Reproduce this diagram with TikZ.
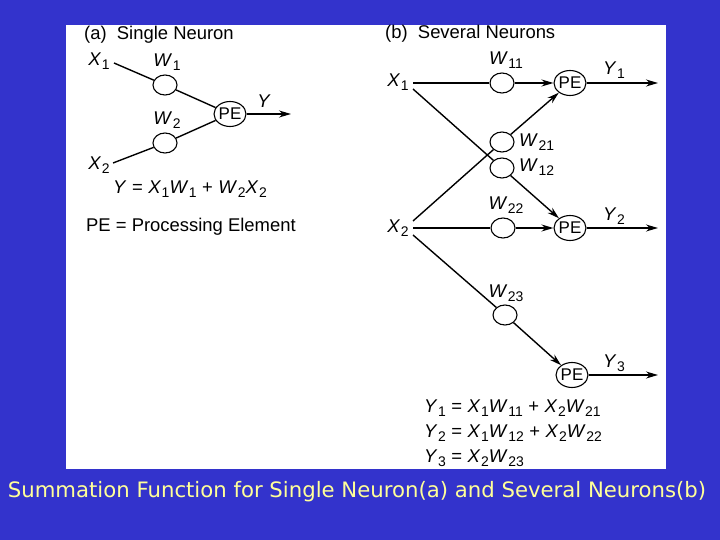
\documentclass[tikz,border=0pt]{standalone}
\usepackage{fontspec}
\setmainfont{Liberation Sans}
\newfontfamily\capfont{DejaVu Sans}
\usetikzlibrary{shapes.geometric,arrows.meta}
\definecolor{bgblue}{RGB}{51,51,204}
\definecolor{capyellow}{RGB}{255,255,153}
\newcommand{\vx}[2]{\textit{#1}\kern0.6pt\raisebox{-0.4ex}{\fontsize{14}{14}\selectfont #2}}
\newcommand{\eqs}{\kern5.5pt=\kern5.5pt}
\newcommand{\pls}{\kern5.5pt+\kern5.5pt}
\tikzset{
  wt/.style={draw, ellipse, fill=white, line width=1.1pt, minimum width=24bp, minimum height=20bp, inner sep=0pt},
  pe/.style={draw, ellipse, fill=white, line width=1.1pt, minimum width=32bp, minimum height=25bp, inner sep=0pt, font=\fontsize{17}{17}\selectfont},
  lbl/.style={inner sep=0pt, font=\fontsize{18.5}{18.5}\selectfont},
  con/.style={line width=1.4pt},
  arr/.style={line width=1.4pt, -{Stealth[length=12bp,width=7bp]}},
}
\begin{document}
\begin{tikzpicture}[x=1bp,y=-1bp]
\useasboundingbox (0,0) rectangle (720,540);
\fill[bgblue] (0,0) rectangle (720,540);
\fill[white] (66,25) rectangle (666,469);

% ---------- panel (a)
\node[lbl, anchor=west] (ta) at (84,35) {(a)\ \ Single Neuron};
\node[lbl] (x1a) at (99,61) {\vx{X}{1}};
\node[lbl] (x2a) at (99,165) {\vx{X}{2}};
\node[wt] (w1) at (165,85) {};
\node[wt] (w2) at (165,143) {};
\node[pe] (pea) at (230,114) {PE};
\node[lbl] (w1l) at (167,62) {\vx{W}{1}};
\node[lbl] (w2l) at (167,120) {\vx{W}{2}};
\node[lbl] (ya) at (264,101) {\textit{Y}};
\coordinate (x1as) at (114,63);
\coordinate (x2as) at (113,163);
\coordinate (yaend) at (291,114);
\draw[con] (x1as) -- (w1);
\draw[con] (x2as) -- (w2);
\draw[con] (w1) -- (pea);
\draw[con] (w2) -- (pea);
\draw[arr] (pea) -- (yaend);
\node[lbl] (eqa) at (190,189) {\textit{Y}\eqs\vx{X}{1}\vx{W}{1}\pls\vx{W}{2}\vx{X}{2}};
\node[lbl, anchor=west] (pedef) at (86,227) {PE = Processing Element};

% ---------- panel (b)
\node[lbl, anchor=west] (tb) at (385,34) {(b)\ \ Several Neurons};
\node[lbl] (x1b) at (398,82) {\vx{X}{1}};
\node[lbl] (x2b) at (398,228) {\vx{X}{2}};
\node[wt] (w11) at (502,83) {};
\node[wt] (w21) at (502,142) {};
\node[wt] (w12) at (502,168) {};
\node[wt] (w22) at (503,228) {};
\node[wt] (w23) at (505,315) {};
\node[pe] (pe1) at (570,83) {PE};
\node[pe] (pe2) at (570,228) {PE};
\node[pe] (pe3) at (572,375) {PE};
\node[lbl] (w11l) at (506,60) {\vx{W}{11}};
\node[lbl, anchor=west] (w21l) at (519,142) {\vx{W}{21}};
\node[lbl, anchor=west] (w12l) at (519,167) {\vx{W}{12}};
\node[lbl] (w22l) at (506,205) {\vx{W}{22}};
\node[lbl] (w23l) at (506,293) {\vx{W}{23}};
\node[lbl] (y1l) at (614,70) {\vx{Y}{1}};
\node[lbl] (y2l) at (614,216) {\vx{Y}{2}};
\node[lbl] (y3l) at (614,363) {\vx{Y}{3}};
\coordinate (x1h) at (413,83);
\coordinate (x1d) at (413,89);
\coordinate (x2u) at (413,221);
\coordinate (x2h) at (413,228);
\coordinate (x2d) at (413,235);
\coordinate (y1e) at (658,83);
\coordinate (y2e) at (658,228);
\coordinate (y3e) at (658,375);
\draw[con] (x1h) -- (w11);
\draw[arr] (w11) -- (pe1);
\draw[con] (x1d) -- (w12);
\draw[arr] (w12) -- (pe2);
\draw[con] (x2u) -- (w21);
\draw[arr] (w21) -- (pe1);
\draw[con] (x2h) -- (w22);
\draw[arr] (w22) -- (pe2);
\draw[con] (x2d) -- (w23);
\draw[arr] (w23) -- (pe3);
\draw[arr] (pe1) -- (y1e);
\draw[arr] (pe2) -- (y2e);
\draw[arr] (pe3) -- (y3e);
\node[lbl, anchor=west] (eq1) at (424,408) {\vx{Y}{1}\eqs\vx{X}{1}\vx{W}{11}\pls\vx{X}{2}\vx{W}{21}};
\node[lbl, anchor=west] (eq2) at (424,433) {\vx{Y}{2}\eqs\vx{X}{1}\vx{W}{12}\pls\vx{X}{2}\vx{W}{22}};
\node[lbl, anchor=west] (eq3) at (424,458) {\vx{Y}{3}\eqs\vx{X}{2}\vx{W}{23}};

% ---------- caption
\node[inner sep=0pt, text=capyellow, font=\capfont\fontsize{21.3}{22}\selectfont] (cap) at (357,492) {Summation Function for Single Neuron(a) and Several Neurons(b)};
\end{tikzpicture}
\end{document}
